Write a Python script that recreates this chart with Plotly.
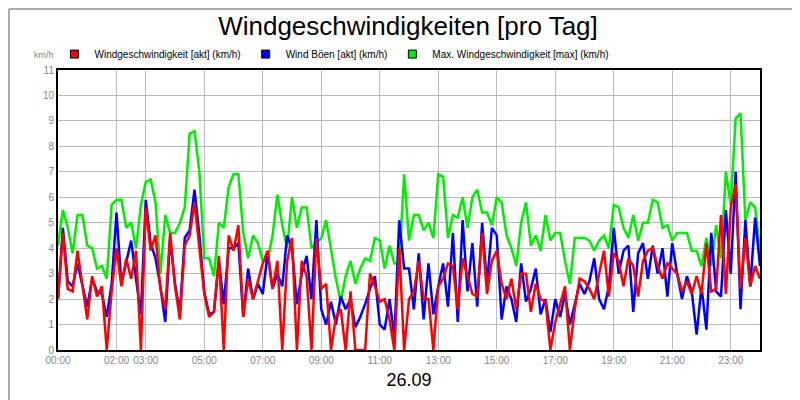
import plotly.graph_objects as go

tick_labels = ["00:00","02:00","03:00","05:00","07:00","09:00","11:00","13:00","15:00","17:00","19:00","21:00","23:00"]
tick_hours = [0,2,3,5,7,9,11,13,15,17,19,21,23]

max_speed = [
4.1,5.5,4.8,3.8,5.3,5.3, 4.1,4.0,3.2,3.3,2.8,5.7, 5.9,5.9,4.8,5.0,4.0,5.7,
6.6,6.7,5.8,3.0,5.3,4.6, 4.6,5.0,5.6,8.5,8.6,7.0, 3.6,3.6,2.9,5.0,4.8,6.4,
6.9,6.9,4.6,3.6,4.5,4.2, 3.5,3.5,4.5,6.1,4.9,4.0, 6.0,4.8,5.6,5.6,4.0,4.2,
4.4,5.1,4.0,2.8,1.9,2.9, 3.5,2.6,3.2,3.6,3.5,4.4, 4.3,3.2,4.1,3.4,3.4,6.9,
4.3,5.3,5.3,4.7,5.0,4.4, 6.9,6.8,4.4,5.3,5.2,6.0, 4.8,6.0,6.3,5.4,5.4,4.9,
6.0,5.8,4.5,4.0,3.3,5.0, 5.8,4.1,4.5,3.9,5.3,4.3, 4.6,4.6,3.5,2.6,4.4,4.4,
4.4,4.3,3.9,4.3,4.5,4.0, 5.7,5.6,4.8,4.4,5.3,4.3, 5.0,5.0,5.9,5.8,4.8,4.9,
4.3,4.6,4.6,4.6,3.9,3.9, 3.3,4.4,3.3,4.9,3.6,7.0, 5.7,9.1,9.3,5.1,5.8,5.6, 3.9]

akt_speed = [
2.0,4.6,2.4,2.3,3.9,2.5, 1.2,2.9,2.1,2.5,0,2.3, 4.0,2.5,3.6,2.8,3.9,0,
5.6,3.9,4.5,2.4,1.6,4.6, 2.5,1.2,4.1,4.5,5.8,4.0, 2.2,1.3,1.5,3.7,0,4.5,
3.9,4.9,1.3,2.8,2.0,2.7, 3.4,3.9,2.4,3.5,0,3.5, 4.4,0,3.5,2.9,0,4.4,
2.4,2.6,0,1.3,1.6,0, 2.3,0,0,0,3.0,2.5, 1.9,2.0,1.2,0,4.0,0,
2.0,2.3,3.5,2.0,2.0,0, 2.5,2.8,3.4,3.3,1.6,3.6, 2.9,2.2,2.1,4.6,2.2,3.5,
3.9,2.6,2.0,2.8,1.6,3.0, 3.0,1.5,2.6,2.0,1.9,0, 1.1,1.8,2.5,0,1.6,2.8,
2.7,2.4,2.0,3.0,3.9,2.1, 3.8,3.5,2.5,3.6,3.3,2.1, 3.5,3.9,4.0,3.3,2.8,3.4,
3.2,3.0,2.3,2.7,2.2,2.9, 2.2,4.2,2.3,2.4,5.3,2.2, 5.6,6.5,2.4,4.4,2.5,3.3, 2.8]

gust_speed = [
2.0,4.8,2.7,2.5,3.4,2.6, 1.7,2.8,2.3,2.2,1.3,2.6, 5.4,2.6,3.4,4.3,2.8,1.4,
5.9,4.2,3.6,2.5,1.1,4.4, 2.6,1.5,4.4,4.7,6.3,4.5, 2.3,1.4,1.5,3.5,1.8,4.0,
4.0,4.2,1.3,3.2,2.0,2.6, 2.2,3.8,2.4,3.0,2.5,4.5, 4.0,1.8,3.0,3.7,2.0,5.1,
1.6,1.0,1.9,1.0,2.1,1.6, 2.0,0.9,1.3,1.8,2.4,2.9, 1.0,0.8,2.0,0.5,5.1,3.2,
3.2,1.6,3.8,1.2,3.4,1.4, 2.5,3.4,1.7,4.6,1.1,5.1, 2.3,4.2,1.7,5.0,2.6,4.8,
4.5,1.2,2.5,2.0,1.1,3.4, 1.9,2.4,3.2,1.4,2.0,0.7, 2.0,1.3,2.2,1.0,1.8,2.6,
2.2,2.7,3.6,2.0,1.6,2.5, 4.8,3.0,3.9,4.1,1.5,3.8, 4.2,2.8,4.1,3.0,4.0,2.1,
4.2,3.0,2.0,2.9,2.3,0.6, 2.5,0.8,4.6,2.3,2.1,5.5, 3.0,7.0,1.6,5.1,2.5,5.2, 3.3]

series_names = ["Windgeschwindigkeit [akt] (km/h)", "Wind Böen [akt] (km/h)",
                "Max. Windgeschwindigkeit [max] (km/h)"]
series_colors = ["#ff0000", "#0000ff", "#00ee00"]

hours = [i / 6 for i in range(len(max_speed))]

fig = go.Figure()
for vals, col in [(max_speed, series_colors[2]), (gust_speed, series_colors[1]), (akt_speed, series_colors[0])]:
    fig.add_trace(go.Scatter(x=hours, y=vals, mode="lines", line=dict(color=col, width=2.5),
                             showlegend=False, hoverinfo="skip"))
for name, col in zip(series_names, series_colors):
    fig.add_trace(go.Scatter(x=[None], y=[None], mode="markers", name=name,
                             marker=dict(symbol="square", size=8, color=col,
                                         line=dict(color="black", width=1))))

W, H = 702, 280
fig.update_layout(
    width=800, height=400, paper_bgcolor="white", plot_bgcolor="white",
    margin=dict(l=50, r=48, t=62, b=58, autoexpand=False),
    font=dict(family="Liberation Sans, Arial", size=10, color="#333"),
    title=dict(text="Windgeschwindigkeiten [pro Tag]", x=0.5, xanchor="center", y=0.955,
               yanchor="middle", font=dict(size=26, color="black")),
    legend=dict(orientation="h", x=-0.005, y=1.005, xanchor="left", yanchor="bottom",
                font=dict(size=10, color="black"), itemwidth=30, tracegroupgap=0,
                bgcolor="rgba(0,0,0,0)"),
    showlegend=True,
    shapes=[dict(type="rect", xref="paper", yref="paper", x0=-49/W, x1=1 + 46/W,
                 y0=-57/H, y1=1 + 61/H, line=dict(color="#555", width=1))],
    annotations=[dict(text="km/h", xref="paper", yref="paper", x=-26/W, y=1 + 8/H, showarrow=False,
                      xanchor="left", yanchor="bottom", font=dict(size=9, color="#888"))],
)
fig.update_xaxes(range=[0, 24], tickvals=tick_hours, ticktext=tick_labels, showgrid=True,
                 gridcolor="#bbbbbb", showline=True, linecolor="black", linewidth=2, mirror=True,
                 tickfont=dict(size=10, color="#888"), ticks="",
                 title=dict(text="26.09", font=dict(size=18, color="black"), standoff=8))
fig.update_yaxes(range=[0, 11], dtick=1, showgrid=True, gridcolor="#bbbbbb", showline=True,
                 linecolor="black", linewidth=2, mirror=True, tickfont=dict(size=10, color="#888"),
                 zeroline=False)

fig.write_html("out.html")
